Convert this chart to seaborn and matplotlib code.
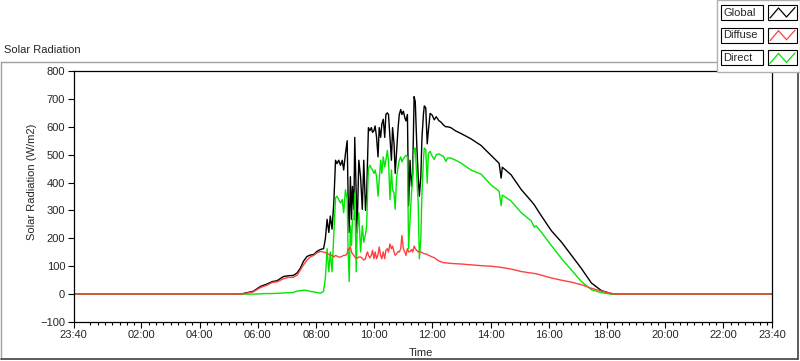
import matplotlib
matplotlib.use("Agg")
import matplotlib.pyplot as plt
import pandas as pd
import seaborn as sns
from matplotlib.patches import Rectangle
from matplotlib.lines import Line2D

# time in hours from midnight (23:40 of the previous day = -1/3)
hours = [
    -0.333, 5.20, 5.45, 5.84, 6.10, 6.31, 6.50, 6.66, 6.88, 7.05, 7.22, 7.35,
    7.46, 7.57, 7.69, 7.80, 7.92, 8.03, 8.15, 8.26, 8.32, 8.38, 8.44, 8.49,
    8.55, 8.61, 8.67, 8.72, 8.78, 8.84, 8.90, 8.95, 9.01, 9.07, 9.10, 9.14,
    9.18, 9.22, 9.25, 9.30, 9.33, 9.38, 9.41, 9.47, 9.53, 9.59, 9.64, 9.70,
    9.74, 9.77, 9.80, 9.85, 9.90, 9.94, 9.99, 10.03, 10.08, 10.13, 10.17, 10.22,
    10.26, 10.31, 10.36, 10.40, 10.45, 10.49, 10.54, 10.59, 10.63, 10.68, 10.72, 10.77,
    10.82, 10.86, 10.91, 10.95, 11.00, 11.05, 11.09, 11.14, 11.18, 11.23, 11.28, 11.32,
    11.37, 11.41, 11.46, 11.51, 11.55, 11.60, 11.64, 11.69, 11.72, 11.77, 11.82, 11.86,
    11.92, 11.99, 12.06, 12.13, 12.22, 12.29, 12.38, 12.46, 12.52, 12.63, 12.80, 12.98,
    13.32, 13.67, 14.01, 14.29, 14.36, 14.40, 14.70, 15.05, 15.39, 15.50, 15.56, 15.74,
    16.08, 16.43, 16.77, 17.11, 17.46, 17.80, 18.15, 18.25, 23.667,
]
global_wm2 = [
    0, 0, 1, 10, 28, 36, 45, 48, 63, 66, 67, 76,
    93, 118, 135, 140, 142, 153, 160, 163, 198, 268, 221, 280,
    233, 327, 480, 468, 480, 462, 480, 445, 503, 550, 362, 221,
    421, 268, 386, 304, 562, 362, 221, 480, 421, 304, 480, 300,
    362, 480, 597, 586, 597, 580, 586, 603, 562, 492, 597, 562,
    609, 627, 562, 644, 650, 644, 562, 480, 597, 539, 433, 515,
    597, 644, 662, 644, 656, 633, 621, 644, 316, 480, 386, 430,
    708, 690, 539, 421, 351, 421, 562, 644, 675, 668, 539, 586,
    648, 642, 625, 636, 622, 617, 606, 600, 600, 597, 585, 576,
    557, 533, 498, 469, 416, 455, 428, 375, 334, 320, 310, 281,
    228, 187, 140, 93, 40, 13, 1, 0, 0,
]
direct_wm2 = [
    0, 0, 0, 0, 1, 2, 2, 3, 4, 5, 6, 11,
    12, 14, 13, 10, 8, 6, 3, 10, 57, 163, 80, 151,
    80, 210, 345, 351, 339, 327, 339, 292, 374, 339, 163, 45,
    245, 174, 268, 268, 362, 80, 221, 292, 151, 245, 186, 215,
    245, 362, 451, 462, 451, 445, 433, 445, 421, 351, 409, 480,
    433, 492, 456, 480, 515, 480, 339, 445, 374, 362, 304, 421,
    456, 480, 492, 474, 486, 492, 498, 492, 163, 268, 362, 421,
    518, 524, 421, 327, 127, 198, 362, 480, 524, 518, 398, 503,
    512, 495, 483, 500, 503, 498, 494, 476, 488, 488, 480, 470,
    445, 430, 392, 369, 317, 355, 334, 292, 263, 240, 245, 222,
    175, 128, 87, 46, 16, 5, 0, 0, 0,
]
diffuse_wm2 = [
    0, 0, 0, 8, 24, 32, 42, 44, 55, 60, 60, 68,
    86, 105, 122, 133, 139, 148, 153, 151, 149, 145, 143, 139,
    139, 133, 139, 136, 133, 133, 136, 139, 139, 145, 163, 160,
    169, 151, 145, 139, 133, 130, 128, 133, 133, 128, 122, 127,
    145, 151, 139, 130, 139, 157, 127, 151, 127, 142, 169, 139,
    127, 151, 127, 157, 163, 151, 180, 163, 172, 151, 139, 145,
    153, 151, 163, 210, 163, 151, 139, 163, 151, 153, 160, 151,
    172, 163, 157, 151, 153, 151, 149, 146, 145, 144, 143, 139,
    137, 133, 131, 125, 119, 116, 113, 112, 111, 110, 109, 108,
    105, 102, 100, 97, 96, 95, 90, 81, 76, 74, 73, 68,
    58, 50, 43, 34, 21, 11, 3, 0, 0,
]

tick_hours = [-1 / 3, 2, 4, 6, 8, 10, 12, 14, 16, 18, 20, 22, 23 + 2 / 3]
tick_labels = ["23:40", "02:00", "04:00", "06:00", "08:00", "10:00", "12:00",
               "14:00", "16:00", "18:00", "20:00", "22:00", "23:40"]
y_ticks = [-100, 0, 100, 200, 300, 400, 500, 600, 700, 800]

series = ["Global", "Diffuse", "Direct"]
colors = {"Global": "#000000", "Diffuse": "#ff4040", "Direct": "#00e600"}

df = pd.DataFrame({"hour": hours, "Global": global_wm2,
                   "Direct": direct_wm2, "Diffuse": diffuse_wm2})

sns.set_style("white")
plt.rcParams["font.family"] = ["Liberation Sans", "DejaVu Sans"]

fig = plt.figure(figsize=(8, 3.61), dpi=100)
ax = fig.add_axes([73.5 / 800, 1 - 322 / 361, (772 - 73.5) / 800, 251 / 361])

for name in ["Global", "Direct", "Diffuse"]:
    sns.lineplot(data=df, x="hour", y=name, ax=ax, color=colors[name],
                 linewidth=1.0, estimator=None, sort=False)

ax.set_xlim(-1 / 3, 23 + 2 / 3)
ax.set_ylim(-100, 800)
ax.set_yticks(y_ticks)
ax.set_xticks(tick_hours)
ax.set_xticklabels(tick_labels)
ax.set_xticks([q / 4 for q in range(0, 95) if q % 8 != 0], minor=True)
ax.tick_params(axis="both", which="major", direction="out", length=4,
               width=0.8, labelsize=8, pad=2, color="black", bottom=True, left=True)
ax.tick_params(axis="x", which="minor", direction="out", length=2.2,
               width=0.8, color="black", bottom=True)
ax.set_xlabel("")
ax.set_ylabel("")
for sp in ax.spines.values():
    sp.set_color("black")
    sp.set_linewidth(0.9)

# overlay in pixel units for frame, titles and the legend panel
ov = fig.add_axes([0, 0, 1, 1])
ov.set_xlim(0, 800)
ov.set_ylim(361, 0)
ov.axis("off")
ov.patch.set_visible(False)

ov.add_line(Line2D([1, 717], [62, 62], color="#a0a0a0", lw=1))
ov.add_line(Line2D([1, 1], [62, 359], color="#a0a0a0", lw=1))
ov.add_line(Line2D([1, 798], [359, 359], color="#404040", lw=1.2))
ov.add_line(Line2D([798, 798], [72, 359], color="#404040", lw=1.2))

ov.text(4, 50, "Solar Radiation", fontsize=8, va="center", ha="left")
ov.text(32, 182, "Solar Radiation (W/m2)", fontsize=8, va="center",
        ha="center", rotation=90)
ov.text(421, 353, "Time", fontsize=8, va="center", ha="center")

ov.add_patch(Rectangle((717, 0), 83, 72, facecolor="white",
                       edgecolor="#b0b0b0", lw=1, zorder=5))
for i, name in enumerate(series):
    top = 5 + i * 22.7
    ov.add_patch(Rectangle((721, top), 42, 15, facecolor="white",
                           edgecolor="black", lw=0.8, zorder=6))
    ov.add_patch(Rectangle((768, top), 29, 15, facecolor="white",
                           edgecolor="black", lw=0.8, zorder=6))
    ov.text(723, top + 7.5, name, fontsize=8, va="center", ha="left", zorder=7)
    ov.add_line(Line2D([770, 778.5, 786.5, 795],
                       [top + 13, top + 3, top + 12, top + 2.5],
                       color=colors[name], lw=0.9, zorder=7))

fig.savefig("out.png", dpi=100)
